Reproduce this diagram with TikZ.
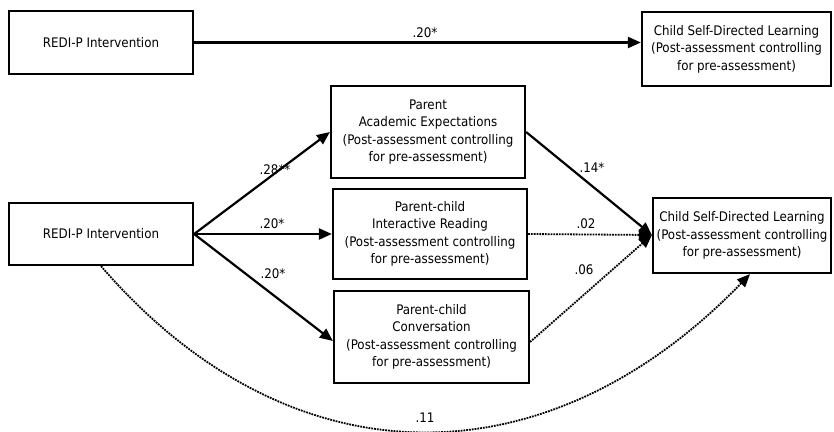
\documentclass[tikz,border=0pt]{standalone}
\usepackage{fontspec}
\setmainfont{DejaVu Sans Condensed}
\usetikzlibrary{arrows.meta}
\begin{document}
\begin{tikzpicture}[x=1pt,y=-1pt,
  every node/.style={font=\fontsize{13.2}{17.5}\selectfont},
  box/.style={draw, line width=2.2pt, align=center, inner sep=0pt},
  solidarr/.style={line width=2.2pt, -{Triangle[length=13pt,width=11pt]}},
  dotarr/.style={line width=1.8pt, densely dotted, -{Triangle[length=13pt,width=11pt]}},
  lab/.style={inner sep=1pt}]
\useasboundingbox (0,0) rectangle (834,431);
\node[box, minimum width=184pt, minimum height=63pt] (a1) at (101,42.5) {REDI-P Intervention};
\node[box, minimum width=189pt, minimum height=74pt] (c1) at (736.5,49) {Child Self-Directed Learning\\(Post-assessment controlling\\for pre-assessment)};
\node[box, minimum width=184pt, minimum height=62pt] (a2) at (101,234) {REDI-P Intervention};
\node[box, minimum width=194pt, minimum height=92pt] (m1) at (428,132) {Parent\\Academic Expectations\\(Post-assessment controlling\\for pre-assessment)};
\node[box, minimum width=194pt, minimum height=90pt] (m2) at (430,234) {Parent-child\\Interactive Reading\\(Post-assessment controlling\\for pre-assessment)};
\node[box, minimum width=195pt, minimum height=92pt] (m3) at (431.5,337) {Parent-child\\Conversation\\(Post-assessment controlling\\for pre-assessment)};
\node[box, minimum width=178pt, minimum height=75pt] (c2) at (742,235.5) {Child Self-Directed Learning\\(Post-assessment controlling\\for pre-assessment)};
\coordinate (t1) at (a1.east -| c1.west);
\draw[solidarr] (a1.east) -- (t1);
\node[lab] (l0) at (425,33) {.20*};
\coordinate (e2) at ([yshift=0.5pt]c2.west);
\draw[solidarr] (a2.east) -- (m1.west);
\draw[solidarr] (a2.east) -- (m2.west);
\draw[solidarr] (a2.east) -- ([yshift=-4pt]m3.west);
\draw[solidarr] (m1.east) -- (e2);
\draw[dotarr] (m2.east) -- (e2);
\draw[dotarr] ([yshift=-5pt]m3.east) -- (e2);
\coordinate (cb) at (750,273);
\draw[dotarr] (a2.south) .. controls (290,485) and (546,485) .. (c2.south -| cb);
\node[lab] (l1) at (275,170) {.28**};
\node[lab] (l2) at (272,224) {.20*};
\node[lab] (l3) at (273,274) {.20*};
\node[lab] (l4) at (592,168) {.14*};
\node[lab] (l5) at (586,224) {.02};
\node[lab] (l6) at (584,270) {.06};
\node[lab] (l7) at (425,418) {.11};
\end{tikzpicture}
\end{document}
